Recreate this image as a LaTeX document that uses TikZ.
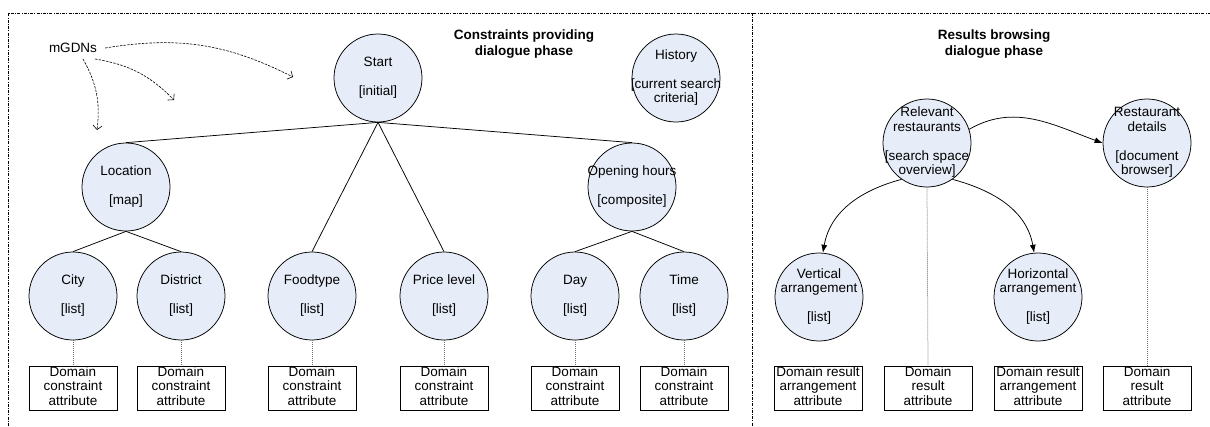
\documentclass[tikz,border=0pt]{standalone}
\usepackage{fontspec}
\setmainfont{Liberation Sans}
\usetikzlibrary{arrows.meta}
\definecolor{statefill}{RGB}{230,237,248}
\definecolor{linkgray}{RGB}{110,110,110}
% zero-width centred stack of lines, so long labels may overhang a circle
\newcommand{\ctxt}[1]{\makebox[0pt]{\begin{tabular}{@{}c@{}}#1\end{tabular}}}
\tikzset{
  txt/.style={font=\fontsize{13.5}{14.5}\selectfont},
  state/.style={txt, circle, draw, line width=0.75pt, fill=statefill,
                minimum size=88pt, inner sep=0pt},
  attr/.style={txt, rectangle, draw, line width=0.75pt, fill=white,
               minimum width=88pt, minimum height=44pt, inner sep=0pt},
  title/.style={font=\fontsize{13.5}{16}\selectfont\bfseries, align=center},
  tree/.style={line width=0.75pt},
  attrlink/.style={draw=linkgray, line width=0.75pt, dash pattern=on 1pt off 1pt},
  frame/.style={line width=0.6pt, dash pattern=on 3pt off 1.2pt on 1pt off 1.2pt},
  gdn/.style={line width=0.6pt, dash pattern=on 2.5pt off 1.2pt,
              -{Straight Barb[length=4pt,width=9pt]}, bend left=18},
  nav/.style={line width=0.75pt, -{Latex[length=8pt,width=6pt]}}
}
\begin{document}
\begin{tikzpicture}[x=1pt,y=1pt]
\useasboundingbox (0,0) rectangle (1210,-426);

% phase frames
\draw[frame] (8,-426) -- (8,-13) -- (1210,-13);
\draw[frame] (752,-13) -- (752,-426);

\node[title] (t1) at (524,-44) {Constraints providing\\dialogue phase};
\node[title] (t2) at (994,-44) {Results browsing\\dialogue phase};

% constraints providing phase
\node[state] (start) at (378,-78)  {\ctxt{Start\\ \\{}[initial]}};
\node[state] (hist)  at (676,-78)  {\ctxt{History\\ \\{}[current search\\criteria]}};
\node[state] (loc)   at (126,-187) {\ctxt{Location\\ \\{}[map]}};
\node[state] (open)  at (632,-187) {\ctxt{Opening hours\\ \\{}[composite]}};
\node[state] (city)  at (73,-296)  {\ctxt{City\\ \\{}[list]}};
\node[state] (dist)  at (181,-296) {\ctxt{District\\ \\{}[list]}};
\node[state] (food)  at (312,-296) {\ctxt{Foodtype\\ \\{}[list]}};
\node[state] (price) at (444,-296) {\ctxt{Price level\\ \\{}[list]}};
\node[state] (day)   at (575,-296) {\ctxt{Day\\ \\{}[list]}};
\node[state] (time)  at (684,-296) {\ctxt{Time\\ \\{}[list]}};

\foreach \n/\x in {b1/73, b2/181, b3/312, b4/444, b5/575, b6/684}
  \node[attr] (\n) at (\x,-388) {\ctxt{Domain\\constraint\\attribute}};

\draw[tree] (start.south) -- (loc.north);
\draw[tree] (start.south) -- (food.north);
\draw[tree] (start.south) -- (price.north);
\draw[tree] (start.south) -- (open.north);
\draw[tree] (loc.south) -- (city.north);
\draw[tree] (loc.south) -- (dist.north);
\draw[tree] (open.south) -- (day.north);
\draw[tree] (open.south) -- (time.north);

\foreach \s/\b in {city/b1, dist/b2, food/b3, price/b4, day/b5, time/b6}
  \draw[attrlink] (\s.south) -- (\b.north);

% mGDNs
\node[txt, inner sep=3pt] (m) at (73,-48) {mGDNs};
\coordinate (g1) at (293,-77);
\coordinate (g2) at (174,-100);
\coordinate (g3) at (97,-130);
\draw[gdn] ([xshift=5pt]m.east) to (g1);
\draw[gdn] ([xshift=22pt,yshift=-3pt]m.south) to (g2);
\draw[gdn] ([xshift=10pt,yshift=-3pt]m.south) to (g3);

% results browsing phase
\node[state] (rel)   at (927,-143)  {\ctxt{Relevant\\restaurants\\ \\{}[search space\\overview]}};
\node[state] (det)   at (1147,-143) {\ctxt{Restaurant\\details\\ \\{}[document\\browser]}};
\node[state] (vert)  at (819,-297)  {\ctxt{Vertical\\arrangement\\ \\{}[list]}};
\node[state] (horiz) at (1038,-297) {\ctxt{Horizontal\\arrangement\\ \\{}[list]}};

\node[attr] (r1) at (818,-388)  {\ctxt{Domain result\\arrangement\\attribute}};
\node[attr] (r2) at (928,-388)  {\ctxt{Domain\\result\\attribute}};
\node[attr] (r3) at (1038,-388) {\ctxt{Domain result\\arrangement\\attribute}};
\node[attr] (r4) at (1147,-388) {\ctxt{Domain\\result\\attribute}};

\draw[nav] (rel.18) to[out=30, in=160] (det.west);
\draw[nav] (rel.235) to[out=195, in=80] (vert.85);
\draw[nav] (rel.305) to[out=-15, in=100] (horiz.95);

\draw[attrlink] (rel.south) -- (r2.north);
\draw[attrlink] (det.south) -- (r4.north);
\end{tikzpicture}
\end{document}
